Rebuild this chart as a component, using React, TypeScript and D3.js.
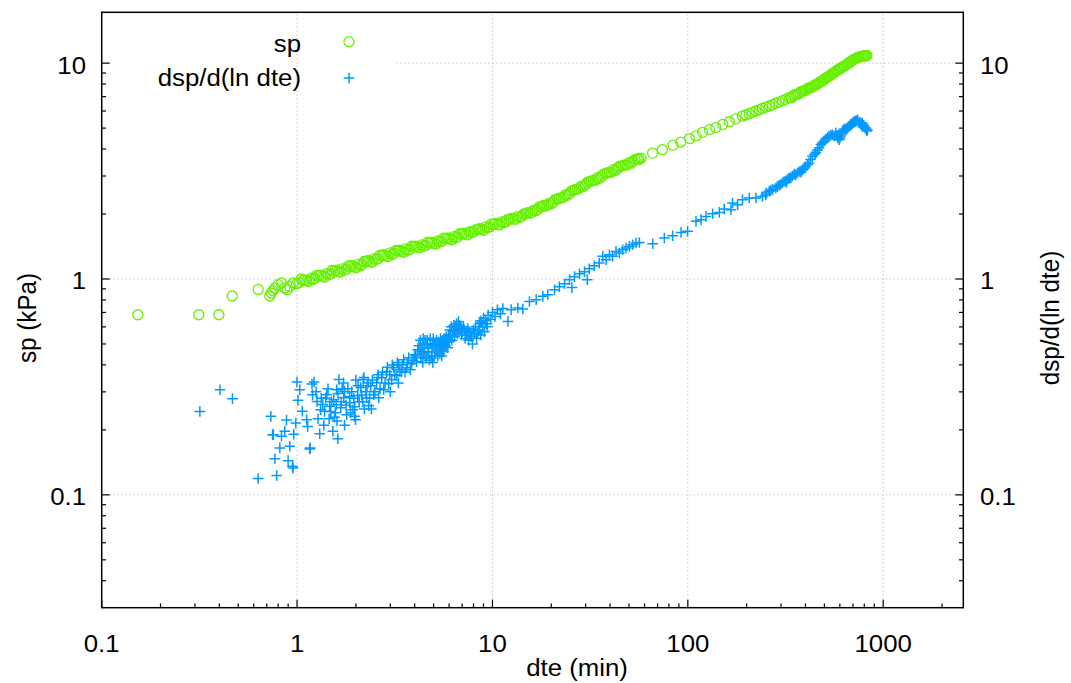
import React from 'react';
import * as d3 from 'd3';

const W = 1071;
const H = 683;

const xDomain: [number, number] = [0.1, 2570];
const yDomain: [number, number] = [0.03, 17.2];
const xMajor = [0.1, 1, 10, 100, 1000];
const xMajorLabels = ['0.1', '1', '10', '100', '1000'];
const yMajor = [0.1, 1, 10];
const yMajorLabels = ['0.1', '1', '10'];
const xTitle = 'dte (min)';
const yTitle = 'sp (kPa)';
const y2Title = 'dsp/d(ln dte)';
const legendLabels = ['sp', 'dsp/d(ln dte)'];

// sp (circles): [dte, sp]
const spData: [number, number][] = [
  [0.153, 0.683], [0.314, 0.683], [0.398, 0.683], [0.466, 0.834], [0.632, 0.895],
  [0.725, 0.834], [0.738, 0.861], [0.752, 0.883], [0.77, 0.908], [0.799, 0.941],
  [0.832, 0.958], [0.865, 0.908], [0.889, 0.892], [0.918, 0.924], [0.954, 0.958], [0.993, 0.951],
  [1.03, 0.962], [1.07, 0.985], [1.12, 0.981], [1.18, 1.01], [1.23, 1.005], [1.29, 1.034],
  [1.35, 1.03], [1.42, 1.06], [1.48, 1.055], [1.55, 1.087], [1.63, 1.085], [1.7, 1.115],
  [1.79, 1.112], [1.87, 1.142], [1.96, 1.138], [2.05, 1.168], [2.15, 1.168], [2.26, 1.205],
  [2.36, 1.204], [2.48, 1.242], [2.6, 1.242], [2.72, 1.28], [2.85, 1.279], [2.99, 1.32],
  [3.13, 1.315], [3.28, 1.348], [3.44, 1.342], [3.6, 1.378], [3.78, 1.372], [3.96, 1.41],
  [4.15, 1.403], [4.35, 1.438], [4.56, 1.432], [4.78, 1.468], [5.01, 1.462], [5.25, 1.5],
  [5.5, 1.495], [5.77, 1.536], [6.05, 1.532], [6.34, 1.572], [6.64, 1.568], [6.96, 1.612],
  [7.3, 1.61], [7.65, 1.655], [8.02, 1.652], [8.4, 1.7], [8.81, 1.697], [9.23, 1.745],
  [9.67, 1.743], [10.1, 1.79], [10.6, 1.788], [11.1, 1.84], [11.7, 1.843], [12.2, 1.892],
  [12.8, 1.895], [13.4, 1.946], [14.1, 1.95], [14.8, 2.005], [15.5, 2.015], [16.2, 2.08],
  [17.0, 2.093], [17.8, 2.16], [18.7, 2.178], [19.6, 2.248], [20.5, 2.265], [21.5, 2.345],
  [22.5, 2.37], [23.6, 2.455], [24.8, 2.488], [26.0, 2.575], [27.2, 2.605], [28.5, 2.695],
  [29.9, 2.732], [31.3, 2.82], [32.8, 2.855], [34.4, 2.948], [36.1, 2.985], [37.8, 3.078],
  [39.6, 3.118], [41.5, 3.21], [43.5, 3.245], [45.6, 3.336], [47.8, 3.375], [50.1, 3.467],
  [52.5, 3.508], [55.0, 3.59], [57.6, 3.628],
  [1.05, 1.0], [1.15, 0.975], [1.26, 1.04], [1.38, 1.02], [1.51, 1.095], [1.66, 1.075],
  [1.83, 1.15], [2.0, 1.128], [2.2, 1.205], [2.42, 1.195], [2.66, 1.29], [2.92, 1.27],
  [3.2, 1.355], [3.52, 1.33], [3.87, 1.418], [4.25, 1.395], [4.67, 1.48], [5.13, 1.45],
  [5.63, 1.545], [6.2, 1.52], [6.8, 1.62], [7.47, 1.6], [8.2, 1.69], [9.0, 1.68],
  [9.9, 1.8], [10.85, 1.78], [11.95, 1.885], [13.1, 1.89], [14.45, 2.0], [15.85, 2.03],
  [17.4, 2.16], [19.15, 2.2], [21.0, 2.34], [23.05, 2.39], [25.4, 2.56], [27.85, 2.63],
  [30.6, 2.81], [33.6, 2.87], [36.9, 3.06], [40.5, 3.12], [44.5, 3.32], [48.9, 3.38],
  [53.7, 3.58], [56.3, 3.58],
  [1.09, 0.99], [1.2, 0.995], [1.32, 1.045], [1.45, 1.045], [1.59, 1.1], [1.75, 1.1],
  [1.91, 1.155], [2.1, 1.15], [2.31, 1.22], [2.54, 1.23], [2.78, 1.295], [3.06, 1.3],
  [3.36, 1.36], [3.69, 1.36], [4.05, 1.42], [4.45, 1.42], [4.89, 1.48], [5.37, 1.485],
  [5.9, 1.55], [6.49, 1.555], [7.13, 1.63], [7.83, 1.64], [8.6, 1.71], [9.45, 1.725],
  [10.35, 1.81], [11.4, 1.825], [12.5, 1.91], [13.75, 1.93], [15.15, 2.03], [16.6, 2.07],
  [18.25, 2.19], [20.0, 2.23], [22.0, 2.37], [24.2, 2.44], [26.6, 2.6], [29.2, 2.68],
  [32.0, 2.85], [35.2, 2.92], [38.7, 3.1], [42.5, 3.18], [46.7, 3.36], [51.3, 3.44], [56.0, 3.62],
  [66, 3.83], [74, 3.97], [84, 4.17], [92, 4.31], [102, 4.47], [110, 4.6], [119, 4.78],
  [129, 4.92], [139, 5.03], [151, 5.2], [163, 5.35], [176, 5.52], [190, 5.68], [206, 5.83],
  [223, 6.0], [241, 6.17], [261, 6.33], [282, 6.52], [305, 6.7], [330, 6.92],
  [198, 5.75], [214, 5.92], [232, 6.08], [251, 6.26], [271, 6.42], [293, 6.6], [317, 6.8],
  [345, 7.05], [360, 7.15], [375, 7.3], [390, 7.42], [405, 7.55], [420, 7.68], [436, 7.8],
  [452, 7.95], [468, 8.1], [485, 8.25], [502, 8.45], [520, 8.62], [538, 8.8], [556, 9.0],
  [575, 9.2], [594, 9.38], [614, 9.55], [634, 9.72], [655, 9.92], [676, 10.12], [697, 10.32],
  [718, 10.48], [740, 10.62], [762, 10.72], [785, 10.78], [808, 10.82], [825, 10.85],
  [338, 6.9], [352, 7.15], [368, 7.2], [382, 7.4], [398, 7.45], [412, 7.65], [428, 7.7],
  [444, 7.9], [460, 8.0], [476, 8.2], [494, 8.35], [511, 8.55], [529, 8.7], [547, 8.92],
  [565, 9.08], [584, 9.3], [604, 9.45], [624, 9.65], [645, 9.8], [666, 10.05], [687, 10.2],
  [708, 10.42], [729, 10.52], [751, 10.7], [773, 10.72], [796, 10.8], [815, 10.8],
];

// dsp/d(ln dte) (crosses): [dte, value]
const dspData: [number, number][] = [
  [0.318, 0.2435], [0.403, 0.307], [0.467, 0.279],
  [0.632, 0.119], [0.786, 0.123], [0.734, 0.231], [0.756, 0.19], [0.832, 0.187], [0.883, 0.222],
  [0.865, 0.197], [0.816, 0.165], [0.77, 0.147], [0.918, 0.168], [0.9, 0.144], [0.948, 0.1355],
  [0.985, 0.215], [0.962, 0.191], [0.999, 0.333], [1.032, 0.307], [1.011, 0.274], [1.064, 0.244],
  [1.12, 0.223], [1.133, 0.2075], [1.167, 0.165], [1.222, 0.333], [1.192, 0.326], [1.2, 0.291],
  [1.306, 0.192], [1.264, 0.271], [1.32, 0.248], [1.4, 0.281], [1.525, 0.197], [1.617, 0.182],
  [1.555, 0.229], [1.637, 0.342], [1.73, 0.33], [1.75, 0.3015], [1.469, 0.257], [1.383, 0.2436],
  [1.587, 0.2615], [1.859, 0.2856], [1.97, 0.231], [1.99, 0.223], [1.93, 0.248], [2.18, 0.342],
  [2.27, 0.281], [2.31, 0.33], [0.749, 0.19], [0.954, 0.133], [1.16, 0.163],
  [1.353, 0.262], [1.418, 0.291], [1.487, 0.243], [1.54, 0.276], [1.595, 0.307], [1.673, 0.253],
  [1.733, 0.282], [1.795, 0.235], [1.859, 0.267], [1.904, 0.3], [1.972, 0.256], [2.043, 0.288],
  [2.117, 0.314], [2.167, 0.27], [2.245, 0.3], [2.325, 0.259], [2.381, 0.32], [2.466, 0.291],
  [2.555, 0.331], [2.616, 0.282], [2.71, 0.349], [2.775, 0.307], [2.874, 0.372], [2.943, 0.327],
  [3.049, 0.341], [3.122, 0.388], [3.234, 0.356], [3.311, 0.401], [3.429, 0.372], [3.512, 0.423],
  [3.638, 0.388], [3.724, 0.432], [3.858, 0.405], [3.997, 0.446], [4.092, 0.414],
  [2.2, 0.35], [2.6, 0.36], [3.0, 0.3], [2.05, 0.32], [1.75, 0.21], [2.4, 0.25], [3.3, 0.33], [1.6, 0.22],
  [1.25, 0.3], [1.28, 0.225], [1.33, 0.28], [1.37, 0.21], [1.44, 0.31], [1.46, 0.225], [1.5, 0.27],
  [1.57, 0.24], [1.62, 0.295], [1.68, 0.27], [1.7, 0.31], [1.78, 0.26], [1.82, 0.31], [1.88, 0.24],
  [1.95, 0.28], [2.0, 0.34], [2.08, 0.27], [2.14, 0.29], [2.21, 0.25], [2.28, 0.32], [2.35, 0.28],
  [2.43, 0.34], [2.5, 0.3], [2.58, 0.35], [2.66, 0.31], [2.74, 0.37], [2.82, 0.33], [2.9, 0.39],
  [2.98, 0.36], [3.07, 0.4], [3.16, 0.36], [3.26, 0.41], [3.36, 0.38], [3.46, 0.4], [3.57, 0.37],
  [3.68, 0.41], [3.8, 0.38], [3.92, 0.42], [4.05, 0.44], [4.15, 0.47],
  [4.25, 0.47], [4.3, 0.43], [4.38, 0.5], [4.45, 0.45], [4.52, 0.52], [4.6, 0.44], [4.68, 0.48],
  [4.75, 0.42], [4.83, 0.5], [4.9, 0.46], [4.98, 0.53], [5.05, 0.44], [5.13, 0.49], [5.2, 0.47],
  [5.3, 0.51], [5.38, 0.45], [5.45, 0.48], [5.55, 0.52], [5.62, 0.46], [5.7, 0.5], [5.8, 0.54],
  [5.9, 0.48], [6.0, 0.51], [4.4, 0.41], [4.95, 0.41], [5.5, 0.44], [4.6, 0.5],
  [4.2, 0.49], [4.28, 0.52], [4.35, 0.46], [4.42, 0.53], [4.5, 0.48], [4.57, 0.43], [4.64, 0.52],
  [4.72, 0.46], [4.8, 0.53], [4.87, 0.43], [4.94, 0.49], [5.02, 0.5], [5.1, 0.46], [5.17, 0.52],
  [5.25, 0.44], [5.34, 0.49], [5.42, 0.53], [5.5, 0.5], [5.58, 0.47], [5.66, 0.53], [5.75, 0.49],
  [5.85, 0.51], [5.95, 0.55],
  [6.1, 0.55], [6.2, 0.52], [6.3, 0.58], [6.4, 0.54], [6.5, 0.6], [6.6, 0.56], [6.7, 0.635],
  [6.8, 0.58], [6.95, 0.55], [7.1, 0.6], [7.25, 0.53], [7.4, 0.57], [7.55, 0.52], [7.7, 0.55],
  [7.9, 0.5], [8.1, 0.56], [8.3, 0.53], [8.5, 0.58], [8.7, 0.55], [8.9, 0.6], [9.1, 0.57],
  [6.05, 0.58], [6.15, 0.6], [6.25, 0.55], [6.35, 0.61], [6.45, 0.57], [6.55, 0.62], [6.65, 0.59],
  [6.75, 0.61], [6.88, 0.6], [7.0, 0.57], [7.18, 0.58], [7.33, 0.55], [7.48, 0.59], [7.62, 0.57],
  [7.8, 0.54], [8.0, 0.58], [8.2, 0.6], [8.4, 0.56], [8.6, 0.62], [8.8, 0.63], [9.2, 0.64], [9.4, 0.6],
  [8.7, 0.64], [9.0, 0.66], [9.3, 0.62], [9.5, 0.68], [9.8, 0.65], [10.0, 0.7], [10.3, 0.67],
  [10.6, 0.72], [11.0, 0.69], [11.3, 0.73], [12.0, 0.636],
  [12.47, 0.721], [13.48, 0.734], [14.3, 0.726], [15.47, 0.787], [16.74, 0.802], [18.1, 0.831], [19.19, 0.846],
  [20.8, 0.892], [22.0, 0.921], [23.4, 0.951], [24.8, 0.993], [25.5, 0.912], [26.3, 1.025],
  [27.9, 1.058], [29.6, 1.081], [30.6, 0.993], [31.3, 1.116], [33.2, 1.152], [35.2, 1.186],
  [36.7, 1.273], [38.2, 1.228], [39.7, 1.296], [41.2, 1.273], [42.9, 1.342], [44.6, 1.32],
  [46.4, 1.367], [48.3, 1.392], [50.2, 1.416], [52.2, 1.442], [54.3, 1.468], [56.5, 1.477],
  [66.1, 1.457], [75.8, 1.549], [83.6, 1.587], [92.3, 1.644], [99.7, 1.662], [110.1, 1.849],
  [116.8, 1.883], [123.9, 1.95], [133.9, 2.007], [144.9, 2.035], [153.6, 2.11], [166.2, 2.095],
  [169.4, 2.25], [179.7, 2.209], [190.5, 2.33], [206.2, 2.373], [223.1, 2.373],
  [241, 2.41], [252, 2.5], [261, 2.55], [272, 2.6], [282, 2.64], [293, 2.72], [305, 2.79],
  [317, 2.85], [330, 2.93], [343, 3.0], [357, 3.04], [371, 3.15], [386, 3.2], [400, 3.32],
  [417, 3.45], [434, 3.7], [452, 3.84], [470, 4.05], [488, 4.27], [508, 4.45], [528, 4.58],
  [549, 4.66], [572, 4.75], [595, 4.42], [618, 4.83], [643, 4.9], [668, 5.1], [695, 5.25],
  [724, 5.37], [752, 5.3], [782, 5.28], [805, 5.05], [830, 4.9],
  [320, 2.8], [350, 3.06], [380, 3.12], [410, 3.38], [445, 3.78], [480, 4.2], [520, 4.52],
  [560, 4.6], [585, 4.5], [606, 4.6], [630, 4.95], [655, 5.0], [680, 5.2], [710, 5.32],
  [740, 5.45], [768, 5.2], [795, 5.15], [818, 4.95],
  [250, 2.45], [266, 2.58], [287, 2.68], [299, 2.74], [311, 2.83], [324, 2.9], [336, 2.96],
  [364, 3.1], [393, 3.25], [425, 3.58], [461, 3.95], [497, 4.35], [539, 4.63], [579, 4.62],
  [600, 4.5], [612, 4.72], [624, 4.88], [649, 4.95], [662, 5.05], [688, 5.22], [702, 5.33],
  [717, 5.4], [732, 5.42], [760, 5.32], [775, 5.22], [788, 5.12], [812, 5.0], [824, 4.85],
];

const FONT = "'Liberation Sans', Arial, Helvetica, sans-serif";
const FS = 24.2;
const SX = 1.066;
const GREEN = '#66f000';
const BLUE = '#0099ff';

function Label(props: { x: number; y: number; anchor?: string; rot?: number; children: React.ReactNode }) {
  const { x, y, anchor = 'middle', rot = 0, children } = props;
  return (
    <text
      transform={`translate(${x},${y}) scale(${SX},1)${rot ? ` rotate(${rot})` : ''}`}
      textAnchor={anchor as any}
      fontFamily={FONT}
      fontSize={FS}
      fill="#000"
    >
      {children}
    </text>
  );
}

const Circle = ({ cx, cy }: { cx: number; cy: number }) => (
  <circle cx={cx} cy={cy} r={5} fill="none" stroke={GREEN} strokeWidth={1.3} />
);
const Plus = ({ cx, cy }: { cx: number; cy: number }) => (
  <path d={`M${cx - 5.3},${cy}H${cx + 5.3}M${cx},${cy - 5.3}V${cy + 5.3}`} stroke={BLUE} strokeWidth={1.5} fill="none" />
);

export default function App() {
  const left = 101.7, right = 963.3, top = 12.3, bottom = 607.7;
  const x = d3.scaleLog().domain(xDomain).range([left, right]);
  const y = d3.scaleLog().domain(yDomain).range([bottom, top]);
  const isMajor = (arr: number[], t: number) => arr.some((m) => Math.abs(m - t) / m < 1e-6);
  const xMinor = x.ticks().filter((t) => !isMajor(xMajor, t) && t > xDomain[0] * 1.0001 && t < xDomain[1]);
  const yMinor = y.ticks().filter((t) => !isMajor(yMajor, t) && t > yDomain[0] * 1.0001 && t < yDomain[1]);
  const legendRight = 396;

  return (
    <svg width={W} height={H} style={{ position: 'absolute', left: 0, top: 0, background: '#fff' }}>
      <rect x={0} y={0} width={W} height={H} fill="#fff" />
      <g stroke="#c4c4c4" strokeWidth={1} strokeDasharray="1.5,2.5">
        {xMajor.filter((v) => v > xDomain[0]).map((v) => (
          <line key={`gx${v}`} x1={x(v)} x2={x(v)} y1={bottom} y2={top} />
        ))}
        {yMajor.map((v) => (
          <line key={`gy${v}`} x1={v >= 10 ? legendRight : left} x2={right} y1={y(v)} y2={y(v)} />
        ))}
      </g>
      <g stroke="#000" strokeWidth={1.2}>
        {xMajor.map((v) => (
          <line key={`tx${v}`} x1={x(v)} x2={x(v)} y1={bottom} y2={bottom - 8} />
        ))}
        {xMinor.map((v) => (
          <line key={`mx${v}`} x1={x(v)} x2={x(v)} y1={bottom} y2={bottom - 4.3} />
        ))}
        {yMajor.map((v) => (
          <g key={`ty${v}`}>
            <line x1={left} x2={left + 8} y1={y(v)} y2={y(v)} />
            <line x1={right} x2={right - 8} y1={y(v)} y2={y(v)} />
          </g>
        ))}
        {yMinor.map((v) => (
          <g key={`my${v}`}>
            <line x1={left} x2={left + 4.3} y1={y(v)} y2={y(v)} />
            <line x1={right} x2={right - 4.3} y1={y(v)} y2={y(v)} />
          </g>
        ))}
      </g>
      <g>
        {spData.map(([t, v], i) => (
          <Circle key={`s${i}`} cx={x(t)} cy={y(v)} />
        ))}
      </g>
      <g>
        {dspData.map(([t, v], i) => (
          <Plus key={`d${i}`} cx={x(t)} cy={y(v)} />
        ))}
      </g>
      <rect x={left} y={top} width={right - left} height={bottom - top} fill="none" stroke="#000" strokeWidth={1.5} />
      {xMajor.map((v, i) => (
        <Label key={`lx${v}`} x={x(v)} y={651.7}>{xMajorLabels[i]}</Label>
      ))}
      {yMajor.map((v, i) => (
        <Label key={`ly${v}`} x={86} y={y(v) + 10.5} anchor="end">{yMajorLabels[i]}</Label>
      ))}
      {yMajor.map((v, i) => (
        <Label key={`ly2${v}`} x={980} y={y(v) + 10.5} anchor="start">{yMajorLabels[i]}</Label>
      ))}
      <Label x={577} y={676}>{xTitle}</Label>
      <Label x={36} y={318} rot={-90}>{yTitle}</Label>
      <Label x={1059} y={318} rot={-90}>{y2Title}</Label>
      <Label x={301} y={51.7} anchor="end">{legendLabels[0]}</Label>
      <Circle cx={349} cy={41.7} />
      <Label x={301} y={86} anchor="end">{legendLabels[1]}</Label>
      <Plus cx={349} cy={78} />
    </svg>
  );
}
